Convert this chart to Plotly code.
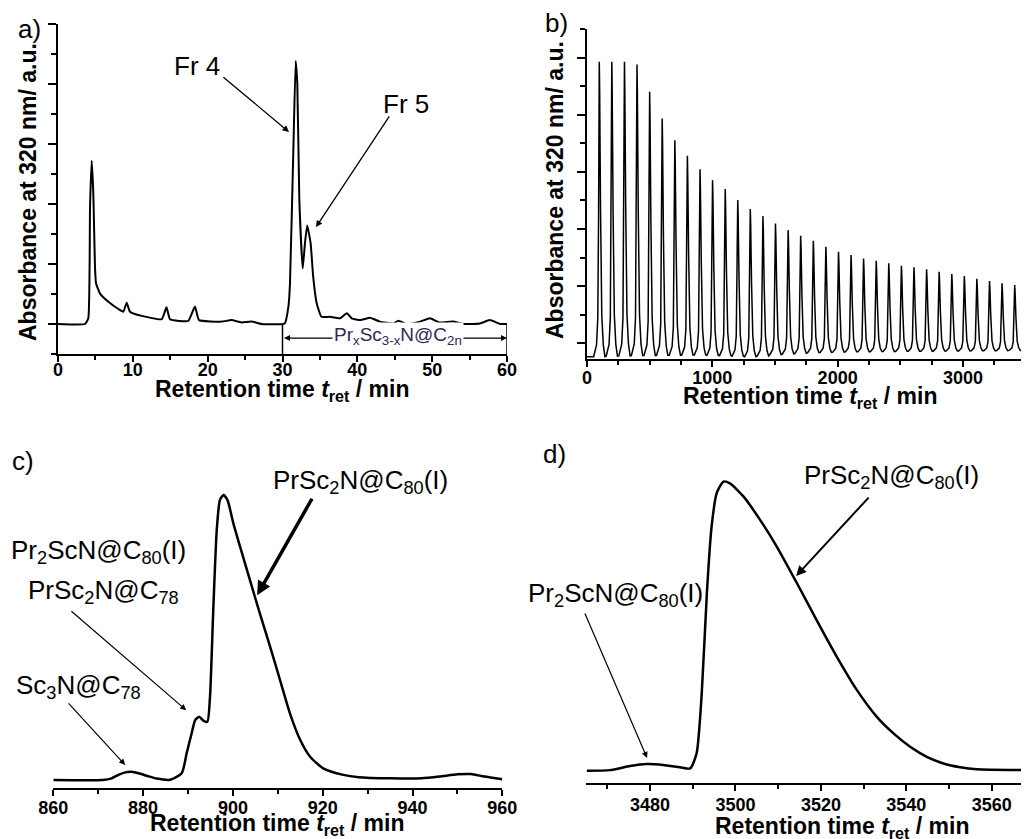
import plotly.graph_objects as go

# ---------------- data ----------------
# panel a: analytical chromatogram
a_time = [0, 3.6, 4.05, 4.28, 4.5, 4.72, 4.94, 5.08, 5.6, 6.73,
          8.06, 8.73, 9.18, 9.62, 11.2, 13.86, 14.5, 14.97, 17.4, 18.3,
          18.84, 21.9, 23.2, 24.5, 25.9, 27.2, 30.3, 30.8, 31.0, 31.45,
          31.76, 31.98, 32.25, 32.7, 33.0, 33.3, 33.76, 34.1, 34.57, 35.2,
          36.3, 37.7, 38.6, 39.25, 40.4, 41.7, 43.0, 44.8, 45.5, 46.6,
          48.4, 49.7, 51.0, 52.8, 54.2, 56.4, 57.7, 59.1, 60]
a_abs = [0, 0, 0.19, 3.9, 5.44, 4.36, 1.91, 1.36, 1.02, 0.74,
         0.5, 0.41, 0.71, 0.41, 0.27, 0.16, 0.56, 0.16, 0.1, 0.58,
         0.13, 0.08, 0.13, 0.05, 0.08, 0.0, 0.02, 0.6, 1.36, 5.8,
         8.77, 8.0, 4.13, 1.85, 2.69, 3.28, 2.69, 1.58, 0.69, 0.24,
         0.24, 0.19, 0.36, 0.19, 0.13, 0.21, 0.08, 0.02, 0.11, 0.0,
         0.08, 0.19, 0.05, 0.08, 0.0, 0.02, 0.13, 0.0, 0.0]

# panel b: recycling chromatogram, one peak per cycle
b_peak_time = [98, 198, 299, 399, 500, 600, 701, 801, 902, 1002,
               1103, 1203, 1303, 1404, 1504, 1605, 1705, 1806, 1906, 2007,
               2107, 2207, 2308, 2408, 2509, 2609, 2710, 2810, 2911, 3011,
               3111, 3212, 3312, 3413, 3513]
b_peak_height = [10.85, 10.85, 10.85, 10.76, 9.80, 8.87, 8.11, 7.56, 7.09, 6.71,
                 6.40, 6.01, 5.70, 5.45, 5.19, 4.96, 4.76, 4.59, 4.38, 4.20,
                 4.09, 3.97, 3.89, 3.80, 3.71, 3.66, 3.59, 3.50, 3.42, 3.35,
                 3.26, 3.18, 3.10, 3.04, 2.98]
b_valley = [0.53, 0.55, 0.56, 0.57, 0.57, 0.58, 0.58, 0.59, 0.59, 0.58,
            0.57, 0.55, 0.53, 0.56, 0.60, 0.63, 0.65, 0.67, 0.68, 0.69,
            0.70, 0.70, 0.71, 0.71, 0.72, 0.72, 0.72, 0.73, 0.73, 0.73,
            0.74, 0.74, 0.74, 0.75, 0.75]
b_profile_dt = [-45, -22, -12, -6, -2, 0, 3, 10, 20, 32, 45]
b_profile_frac = [0.0, 0.04, 0.13, 0.45, 0.9, 1.0, 0.9, 0.5, 0.14, 0.04, 0.0]

# panel c
c_time = [860, 871, 873, 874.5, 876, 877.4, 879, 881, 883, 886,
          888.6, 889.7, 890.8, 891.6, 892.5, 893.4, 894.3, 894.9, 895.6, 896.4,
          897.1, 897.9, 898.8, 900.1, 901.6, 903.8, 906.0, 908.3, 910.5, 912.7,
          915.0, 917.2, 920.1, 924.6, 928, 935, 942, 946, 950, 953,
          956, 960]
c_abs = [0, 0, 0.6, 1.8, 2.7, 2.9, 2.4, 1.4, 0.5, 0.1,
         2.4, 9.4, 16.4, 21.1, 22.3, 20.9, 20.5, 29.3, 58.7, 88.0,
         98.6, 100.4, 98.6, 90.4, 82.2, 70.4, 58.7, 46.9, 35.2, 23.5,
         14.1, 8.2, 4.1, 1.8, 1.0, 0.6, 0.6, 1.2, 2.0, 2.1,
         1.2, 0.3]

# panel d
d_time = [3465.2, 3470.6, 3475.3, 3479.2, 3483.1, 3487.0, 3489.4, 3490.9, 3492.1, 3493.3,
          3494.4, 3495.6, 3497.2, 3498.7, 3501.9, 3505.8, 3509.7, 3514.4, 3519.0, 3523.7,
          3528.4, 3533.1, 3537.0, 3540.9, 3544.8, 3548.7, 3552.6, 3556.5, 3570.5]
d_abs = [0, 0.2, 1.6, 2.3, 2.0, 1.2, 0.8, 6.0, 26.7, 61.2,
         84.2, 95.8, 99.8, 99.2, 94.6, 86.5, 77.3, 64.7, 52.0, 39.4,
         27.9, 18.6, 12.9, 8.3, 4.8, 2.5, 1.2, 0.5, 0.2]

# ---------------- layout helpers ----------------
W, H = 1029, 839
OFF = 8  # page offset of the figure div (body margin)
FONT = "Liberation Sans, Arial, Helvetica, sans-serif"


def px_x(p):
    return (p - OFF) / W


def px_y(p):
    return 1 - (p - OFF) / H


# build panel b trace from the peak list
b_x = [0, 60]
b_y = [b_valley[0], b_valley[0]]
for t, h, v in zip(b_peak_time, b_peak_height, b_valley):
    for dt, f in zip(b_profile_dt, b_profile_frac):
        b_x.append(t + dt)
        b_y.append(v + f * (h - v))

fig = go.Figure()
fig.add_trace(go.Scatter(x=a_time, y=a_abs, mode="lines", xaxis="x", yaxis="y",
                         line=dict(color="black", width=2, shape="spline", smoothing=0.4)))
fig.add_trace(go.Scatter(x=b_x, y=b_y, mode="lines", xaxis="x2", yaxis="y2",
                         line=dict(color="black", width=1.5)))
fig.add_trace(go.Scatter(x=c_time, y=c_abs, mode="lines", xaxis="x3", yaxis="y3",
                         line=dict(color="black", width=2.5, shape="spline", smoothing=0.6)))
fig.add_trace(go.Scatter(x=d_time, y=d_abs, mode="lines", xaxis="x4", yaxis="y4",
                         line=dict(color="black", width=2.5, shape="spline", smoothing=0.6)))

tickfont = dict(family=FONT, size=18, color="black", weight="bold")
common_x = dict(showline=True, linecolor="black", linewidth=2, ticks="outside",
                tickcolor="black", tickwidth=1.5, ticklen=6, showgrid=False, zeroline=False,
                tickfont=tickfont, automargin=False)
common_y = dict(showline=True, linecolor="black", linewidth=2, ticks="outside",
                tickcolor="black", ticklen=8, tickwidth=1.5, dtick=2,
                minor=dict(dtick=1, ticklen=5, tickcolor="black", ticks="outside"),
                showticklabels=False, showgrid=False, zeroline=False, automargin=False)

fig.update_layout(
    width=W, height=H, margin=dict(l=0, r=0, t=0, b=0, pad=0, autoexpand=False),
    autosize=False,
    paper_bgcolor="white", plot_bgcolor="white", showlegend=False,
    font=dict(family=FONT, color="black"),
    xaxis=dict(domain=[px_x(58), px_x(507)], range=[0, 60], anchor="y",
               tick0=0, dtick=10, ticklabelstandoff=-8,
               minor=dict(dtick=5, ticklen=4, tickcolor="black", ticks="outside"),
               **common_x),
    yaxis=dict(domain=[px_y(354), px_y(24)], range=[-1, 10], anchor="x",
               tick0=0, **common_y),
    xaxis2=dict(domain=[px_x(587), 1.0], range=[0, 3591], anchor="y2",
                tick0=0, dtick=1000, ticklabelstandoff=-5,
                minor=dict(dtick=250, ticklen=4, tickcolor="black", ticks="outside"),
                **common_x),
    yaxis2=dict(domain=[px_y(359), px_y(29)], range=[0.45, 12], anchor="x2",
                tick0=1, **common_y),
    xaxis3=dict(domain=[px_x(53.3), px_x(502.3)], range=[860, 960], anchor="y3",
                tick0=860, dtick=20, ticklabelstandoff=-4,
                minor=dict(dtick=10, ticklen=4, tickcolor="black", ticks="outside"),
                **common_x),
    yaxis3=dict(domain=[px_y(788.3), px_y(470)], range=[-2.92, 109.2], anchor="x3",
                visible=False, automargin=False),
    xaxis4=dict(domain=[px_x(586), 1.0], range=[3465, 3570.6], anchor="y4",
                tick0=3480, dtick=20, ticklabelstandoff=-2,
                minor=dict(dtick=10, ticklen=4, tickcolor="black", ticks="outside"),
                **common_x),
    yaxis4=dict(domain=[px_y(783.3), px_y(450)], range=[-4.35, 110.7], anchor="x4",
                visible=False, automargin=False),
)

# range box lines of panel a (Pr_xSc_3-xN@C_2n region)
for xv in [30, 60]:
    fig.add_shape(type="line", xref="x", yref="y", x0=xv, x1=xv, y0=0, y1=-1,
                  line=dict(color="black", width=1.5))

ann = []


def text(s, xpx, ypx, size=26, xanchor="left", color="black", bg=None, **kw):
    d = dict(text=s, x=px_x(xpx), y=px_y(ypx), xref="paper", yref="paper",
             xanchor=xanchor, yanchor="middle", showarrow=False,
             font=dict(family=FONT, size=size, color=color))
    if bg:
        d["bgcolor"] = bg
    d.update(kw)
    ann.append(d)


def arrow(xr, yr, tail, head, width=1.2, size=1.0):
    ann.append(dict(text="", x=head[0], y=head[1], ax=tail[0], ay=tail[1],
                    xref=xr, yref=yr, axref=xr, ayref=yr, showarrow=True,
                    arrowhead=2, arrowsize=size, arrowwidth=width, arrowcolor="black",
                    standoff=0, startstandoff=0))


# panel labels
text("a)", 16, 29)
text("b)", 543, 23)
text("c)", 10, 461)
text("d)", 541, 454)

# axis titles
xt = "<b>Retention time <i>t</i><sub>ret</sub> / min</b>"
text(xt, 282, 390, size=23, xanchor="center")
text(xt, 810, 397, size=23, xanchor="center")
text(xt, 277, 824, size=23, xanchor="center")
text(xt, 842, 827, size=23, xanchor="center")
yt = "<b>Absorbance at 320 nm/ a.u.</b>"
text(yt, 28, 192, size=23, xanchor="center", textangle=-90)
text(yt, 555, 190, size=23, xanchor="center", textangle=-90)

# panel a annotations
text("Fr 4", 172, 66)
text("Fr 5", 381, 104)
arrow("x", "y", (21.9, 8.27), (30.87, 6.4), width=1.3)
arrow("x", "y", (44.4, 6.97), (34.48, 3.23), width=1.3)
ann.append(dict(text="", x=60, y=-0.47, ax=30, ay=-0.47, xref="x", yref="y",
                axref="x", ayref="y", showarrow=True, arrowhead=2, startarrowhead=2,
                arrowside="end+start", arrowsize=1, arrowwidth=1.2, arrowcolor="black",
                standoff=0, startstandoff=0))
text("Pr<sub>x</sub>Sc<sub>3-x</sub>N@C<sub>2n</sub>", 398, 336, size=19,
     xanchor="center", color="#3b2450", bg="white")

# panel c annotations
text("PrSc<sub>2</sub>N@C<sub>80</sub>(I)", 271, 481)
text("Pr<sub>2</sub>ScN@C<sub>80</sub>(I)", 9, 551)
text("PrSc<sub>2</sub>N@C<sub>78</sub>", 26, 591)
text("Sc<sub>3</sub>N@C<sub>78</sub>", 14, 686)
arrow("x3", "y3", (917.8, 99.6), (905.4, 65.1), width=3.5, size=0.8)
arrow("x3", "y3", (863.7, 59.9), (889.6, 24.6), width=1.2)
arrow("x3", "y3", (863.1, 27.5), (876.0, 5.3), width=1.2)

# panel d annotations
text("PrSc<sub>2</sub>N@C<sub>80</sub>(I)", 802, 476)
text("Pr<sub>2</sub>ScN@C<sub>80</sub>(I)", 526, 594)
arrow("x4", "y4", (3531.5, 94.8), (3514.2, 67.2), width=2, size=1)
arrow("x4", "y4", (3464.6, 54.8), (3479.3, 4.4), width=1.2)

fig.update_layout(annotations=ann)
fig.write_html("out.html")
